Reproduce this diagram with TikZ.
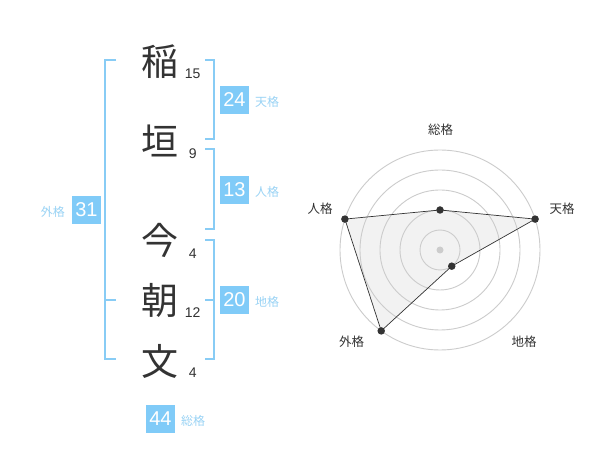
\documentclass[tikz,border=0pt]{standalone}
\usepackage{fontspec}
\setmainfont{Noto Sans CJK JP}
\newfontfamily\numfont{Liberation Sans}
\definecolor{brk}{HTML}{88CCF5}
\definecolor{boxc}{HTML}{80CBF8}
\definecolor{lblc}{HTML}{99D3F5}
\definecolor{txt}{HTML}{333333}
\definecolor{ringc}{HTML}{CCCCCC}
\definecolor{areac}{HTML}{F2F2F2}
\tikzset{
  kanji/.style={font=\fontsize{37}{37}\selectfont, text=txt, inner sep=0pt},
  strokes/.style={font=\numfont\fontsize{14}{14}\selectfont, text=txt, inner sep=0pt},
  score/.style={fill=boxc, text=white, minimum width=28.5pt, minimum height=28.5pt, inner sep=0pt, font=\numfont\fontsize{20}{20}\selectfont},
  kaku/.style={text=lblc, font=\fontsize{12}{12}\selectfont, inner sep=0pt},
  bracket/.style={draw=brk, line width=2pt},
  ring/.style={draw=ringc, line width=0.9pt},
  radlbl/.style={text=txt, font=\fontsize{12.5}{12.5}\selectfont, inner sep=0pt},
  dotnode/.style={circle, fill=txt, minimum size=7.5pt, inner sep=0pt},
  areafill/.style={fill=areac},
  arealine/.style={draw=txt, line width=0.7pt},
}
\begin{document}
\begin{tikzpicture}[x=1pt,y=-1pt]
\useasboundingbox[fill=white] (0,0) rectangle (600,470);
% characters
\node[kanji] (c1) at (160,61.5) {稲};
\node[kanji] (c2) at (160,141) {垣};
\node[kanji] (c3) at (160,240) {今};
\node[kanji] (c4) at (160,300) {朝};
\node[kanji] (c5) at (160,361.5) {文};
% stroke counts
\node[strokes] (n1) at (192.7,73.3) {15};
\node[strokes] (n2) at (192.7,153.3) {9};
\node[strokes] (n3) at (192.7,253.3) {4};
\node[strokes] (n4) at (192.7,312.7) {12};
\node[strokes] (n5) at (192.7,372.7) {4};
% brackets
\draw[bracket] (205,60) -- (214,60) -- (214,139.3) -- (205,139.3);
\draw[bracket] (205,149.3) -- (214,149.3) -- (214,229.3) -- (205,229.3);
\draw[bracket] (205,240) -- (214,240) -- (214,359.3) -- (205,359.3);
\draw[bracket] (205,300) -- (214,300);
\draw[bracket] (116,60) -- (105,60) -- (105,359.3) -- (116,359.3);
\draw[bracket] (105,300) -- (116,300);
% score boxes
\node[score] (ten) at (234.5,100) {24};
\node[kaku, anchor=west, yshift=-1.5pt] (tenl) at ([xshift=6pt]ten.east) {天格};
\node[score] (jin) at (234.5,190) {13};
\node[kaku, anchor=west, yshift=-1.5pt] (jinl) at ([xshift=6pt]jin.east) {人格};
\node[score] (chi) at (234.5,300) {20};
\node[kaku, anchor=west, yshift=-1.5pt] (chil) at ([xshift=6pt]chi.east) {地格};
\node[score] (gai) at (86.5,210) {31};
\node[kaku, anchor=east, yshift=-1.5pt] (gail) at ([xshift=-7pt]gai.west) {外格};
\node[score] (sou) at (160.5,419) {44};
\node[kaku, anchor=west, yshift=-1.5pt] (soul) at ([xshift=6pt]sou.east) {総格};
% radar chart
\begin{scope}[shift={(440,250)}]
  \coordinate (p1) at (-90:40);
  \coordinate (p2) at (-18:100);
  \coordinate (p3) at (54:20);
  \coordinate (p4) at (126:100);
  \coordinate (p5) at (198:100);
  \fill[areafill] (p1) -- (p2) -- (p3) -- (p4) -- (p5) -- cycle;
  \foreach \rr in {20,40,60,80,100} \draw[ring] (0,0) circle[radius=\rr];
  \fill[ringc] (0,0) circle[radius=3.5];
  \draw[arealine] (p1) -- (p2) -- (p3) -- (p4) -- (p5) -- cycle;
  \node[dotnode] (d1) at (p1) {};
  \node[dotnode] (d2) at (p2) {};
  \node[dotnode] (d3) at (p3) {};
  \node[dotnode] (d4) at (p4) {};
  \node[dotnode] (d5) at (p5) {};
  \node[radlbl] (l1) at (0.7,-120) {総格};
  \node[radlbl] (l2) at (122,-41) {天格};
  \node[radlbl] (l3) at (84,92) {地格};
  \node[radlbl] (l4) at (-88.3,92) {外格};
  \node[radlbl] (l5) at (-120,-41) {人格};
\end{scope}
\end{tikzpicture}
\end{document}
